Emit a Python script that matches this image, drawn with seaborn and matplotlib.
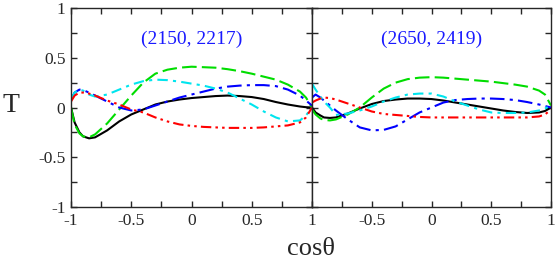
import numpy as np
import pandas as pd
import seaborn as sns
import matplotlib.pyplot as plt
from matplotlib.ticker import MultipleLocator

# shared cos(theta) grid for all curves
cos_theta = [-1, -0.97, -0.93, -0.9, -0.85, -0.8, -0.7, -0.6, -0.5, -0.4, -0.3, -0.2, -0.1,
             0, 0.1, 0.2, 0.3, 0.4, 0.5, 0.6, 0.7, 0.8, 0.9, 0.95, 1.0]

# left panel (2150, 2217)
left_black = [0, -0.15, -0.25, -0.29, -0.31, -0.30, -0.23, -0.14, -0.07, -0.02, 0.03, 0.06, 0.08,
              0.095, 0.105, 0.115, 0.12, 0.115, 0.105, 0.085, 0.055, 0.03, 0.01, 0.003, 0]
left_green = [0, -0.17, -0.26, -0.29, -0.30, -0.27, -0.16, -0.02, 0.12, 0.25, 0.34, 0.38, 0.40,
              0.41, 0.405, 0.40, 0.385, 0.365, 0.34, 0.31, 0.28, 0.23, 0.16, 0.1, 0]
left_blue = [0.08, 0.15, 0.18, 0.175, 0.15, 0.12, 0.06, 0.0, -0.03, -0.02, 0.02, 0.06, 0.1,
             0.13, 0.16, 0.19, 0.21, 0.22, 0.225, 0.225, 0.215, 0.18, 0.12, 0.07, 0.02]
left_cyan = [0.08, 0.15, 0.18, 0.17, 0.13, 0.11, 0.13, 0.18, 0.23, 0.265, 0.28, 0.275, 0.26,
             0.24, 0.22, 0.19, 0.15, 0.09, 0.03, -0.04, -0.1, -0.14, -0.13, -0.08, 0]
left_red = [0.06, 0.12, 0.15, 0.15, 0.14, 0.12, 0.07, 0.03, -0.02, -0.05, -0.1, -0.14, -0.17,
            -0.185, -0.195, -0.2, -0.205, -0.205, -0.205, -0.2, -0.19, -0.18, -0.15, -0.1, 0]

# right panel (2650, 2419)
right_black = [0, -0.05, -0.08, -0.1, -0.105, -0.1, -0.06, -0.01, 0.035, 0.065, 0.08, 0.09, 0.09,
               0.085, 0.07, 0.05, 0.03, 0.01, -0.01, -0.03, -0.045, -0.055, -0.05, -0.035, 0]
right_green = [-0.02, -0.07, -0.11, -0.125, -0.13, -0.12, -0.07, 0.0, 0.1, 0.19, 0.25, 0.285, 0.3,
               0.305, 0.3, 0.29, 0.28, 0.27, 0.26, 0.245, 0.23, 0.21, 0.17, 0.13, 0.02]
right_blue = [0.1, 0.13, 0.1, 0.07, 0.02, -0.03, -0.12, -0.2, -0.23, -0.225, -0.19, -0.12, -0.05,
              0.0, 0.05, 0.075, 0.085, 0.09, 0.09, 0.085, 0.075, 0.055, 0.03, 0.015, 0.0]
right_cyan = [0.24, 0.18, 0.11, 0.06, 0.0, -0.075, -0.06, -0.03, 0.01, 0.06, 0.1, 0.13, 0.14,
              0.14, 0.11, 0.06, 0.02, -0.02, -0.05, -0.055, -0.055, -0.05, -0.03, -0.01, 0.02]
right_red = [0.05, 0.07, 0.09, 0.1, 0.095, 0.08, 0.04, 0.0, -0.04, -0.065, -0.075, -0.085, -0.095,
             -0.1, -0.1, -0.1, -0.1, -0.1, -0.1, -0.1, -0.1, -0.1, -0.09, -0.07, -0.02]

panel_labels = ["(2150, 2217)", "(2650, 2419)"]
x_ticklabels_left = ["-1", "-0.5", "0", "0.5", "1"]
x_ticklabels_right = ["", "-0.5", "0", "0.5", "1"]
y_ticklabels = ["-1", "-0.5", "0", "0.5", "1"]

series_names = ["black", "green", "blue", "cyan", "red"]
panels = [
    [left_black, left_green, left_blue, left_cyan, left_red],
    [right_black, right_green, right_blue, right_cyan, right_red],
]

rows = []
for p, curves in enumerate(panels):
    for name, vals in zip(series_names, curves):
        for c, t in zip(cos_theta, vals):
            rows.append({"panel": p, "series": name, "cos": c, "T": t})
df = pd.DataFrame(rows)

styles = {
    "black": dict(color="black", linestyle="-"),
    "green": dict(color="#00dd00", linestyle=(0, (7, 2.5))),
    "blue": dict(color="#0000ff", linestyle=(0, (7, 2.5, 1.5, 2.5))),
    "cyan": dict(color="#00e5ee", linestyle=(0, (5, 2.5, 1.5, 2.5))),
    "red": dict(color="#ff0000", linestyle=(0, (5, 2, 1.2, 2, 1.2, 2))),
}

sns.set_style("ticks")
plt.rcParams["font.family"] = ["Liberation Serif", "DejaVu Serif"]
plt.rcParams["axes.linewidth"] = 1.0

fig = plt.figure(figsize=(5.56, 2.63), dpi=100)
ax_l = fig.add_axes([71 / 556, 56 / 263, 241 / 556, 199 / 263])
ax_r = fig.add_axes([312 / 556, 56 / 263, 239 / 556, 199 / 263])

for p, ax in enumerate([ax_l, ax_r]):
    sub = df[df["panel"] == p]
    for name in series_names:
        sns.lineplot(data=sub[sub["series"] == name], x="cos", y="T", ax=ax,
                     lw=1.5, **styles[name])
    ax.set_xlim(-1, 1)
    ax.set_ylim(-1, 1)
    ax.set_xlabel("")
    ax.set_ylabel("")
    ax.xaxis.set_major_locator(MultipleLocator(0.5))
    ax.xaxis.set_minor_locator(MultipleLocator(0.25))
    ax.yaxis.set_major_locator(MultipleLocator(0.5))
    ax.yaxis.set_minor_locator(MultipleLocator(0.25))
    ax.tick_params(which="both", direction="in", top=True, right=True,
                   length=4.5, width=1.0, labelsize=12.5, pad=4)
    for s in ax.spines.values():
        s.set_visible(True)
        s.set_linewidth(1.0)
    ax.text(0, 0.68, panel_labels[p], color="#1a1aff", fontsize=14,
            ha="center", va="center")

ax_l.set_xticks([-1, -0.5, 0, 0.5, 1])
ax_l.set_xticklabels(x_ticklabels_left)
ax_l.set_yticks([-1, -0.5, 0, 0.5, 1])
ax_l.set_yticklabels(y_ticklabels)
ax_r.set_xticks([-1, -0.5, 0, 0.5, 1])
ax_r.set_xticklabels(x_ticklabels_right)
ax_r.set_yticks([-1, -0.5, 0, 0.5, 1])
ax_r.set_yticklabels([])

fig.text(0.559, 0.055, "cos\u03b8", fontsize=19, ha="center", va="center")
fig.text(0.02, 0.597, "T", fontsize=20, ha="center", va="center")

fig.savefig("out.png", dpi=100)
